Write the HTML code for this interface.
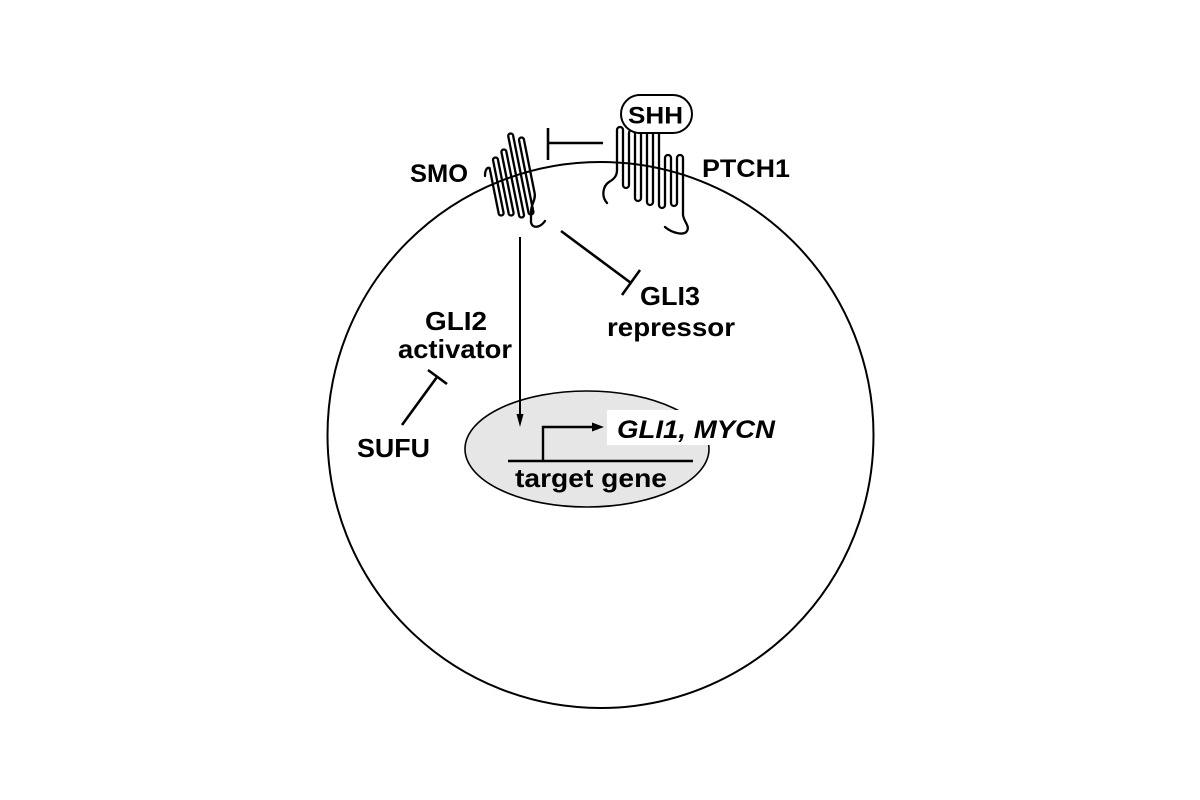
<!DOCTYPE html>
<html>
<head>
<meta charset="utf-8">
<style>
  html, body { margin: 0; padding: 0; background: #ffffff; }
  svg { display: block; }
  text { font-family: "Liberation Sans", Arial, sans-serif; font-weight: bold; fill: #000; }
</style>
</head>
<body>
<svg width="1200" height="800" viewBox="0 0 1200 800" xmlns="http://www.w3.org/2000/svg">
  <rect x="0" y="0" width="1200" height="800" fill="#ffffff"/>

  <!-- cell membrane -->
  <circle cx="600.5" cy="435" r="273" fill="none" stroke="#000" stroke-width="2"/>

  <!-- nucleus -->
  <ellipse cx="587" cy="449" rx="122" ry="58" fill="#e6e6e6" stroke="#000" stroke-width="1.6"/>
  <rect x="607" y="410" width="112" height="35" fill="#ffffff"/>

  <!-- gene line -->
  <line x1="508" y1="461" x2="693" y2="461" stroke="#000" stroke-width="2.6"/>
  <!-- promoter arrow -->
  <polyline points="543,461 543,427 595,427" fill="none" stroke="#000" stroke-width="2.4"/>
  <polygon points="592,422.5 604,427 592,431.5" fill="#000"/>

  <!-- SMO -> nucleus arrow -->
  <line x1="520" y1="237" x2="520" y2="418" stroke="#000" stroke-width="2"/>
  <polygon points="516.5,414 520,427 523.5,414" fill="#000"/>

  <!-- PTCH1 -| SMO -->
  <line x1="548" y1="143" x2="603" y2="143" stroke="#000" stroke-width="2.6"/>
  <line x1="548" y1="128" x2="548" y2="160" stroke="#000" stroke-width="2.6"/>

  <!-- SMO -| GLI3 -->
  <line x1="561" y1="231" x2="631" y2="283" stroke="#000" stroke-width="2.6"/>
  <line x1="622" y1="295" x2="640" y2="270" stroke="#000" stroke-width="2.6"/>

  <!-- SUFU -| GLI2 -->
  <line x1="402" y1="425" x2="437" y2="377" stroke="#000" stroke-width="2.6"/>
  <line x1="428" y1="370" x2="447" y2="384" stroke="#000" stroke-width="2.6"/>

  <!-- SMO (7TM-like serpentine) -->
  <path d="M485,176 C485,170 487,167 489.6,168
           L498.6,213 A2.5,2.5 0 0 0 503.6,213
           L493,160 A2.5,2.5 0 0 1 498,160
           L508.6,213 A2.5,2.5 0 0 0 513.6,213
           L501.4,152 A2.5,2.5 0 0 1 506.4,152
           L519,215 A2.5,2.5 0 0 0 524,215
           L508.2,136 A2.5,2.5 0 0 1 513.2,136
           L528.4,212 A2.5,2.5 0 0 0 533.4,212
           L519,140 A2.5,2.5 0 0 1 524,140
           L534.6,193 C536,200 531,204 531,212 L531,222 C532,229 540,228 545,221"
        fill="none" stroke="#000" stroke-width="2.3" stroke-linejoin="round" stroke-linecap="round"/>

  <!-- PTCH1 (12TM serpentine) -->
  <path d="M607,203 C601,196 603,186 609,182 C614,179 617,176 617,170
           L617,130 A3,3 0 0 1 623,130
           L623,185 A3,3 0 0 0 629,185
           L629,133 A3,3 0 0 1 635,133
           L635,198 A3,3 0 0 0 641,198
           L641,133 A3,3 0 0 1 647,133
           L647,202 A3,3 0 0 0 653,202
           L653,133 A3,3 0 0 1 659,133
           L659,205 A3,3 0 0 0 665,205
           L665,158 A3,3 0 0 1 671,158
           L671,203 A3,3 0 0 0 677,203
           L677,158 A3,3 0 0 1 683,158
           L683,215 C684,222 690,226 687,231 C684,236 672,233 665,227"
        fill="none" stroke="#000" stroke-width="2.3" stroke-linejoin="round" stroke-linecap="round"/>

  <!-- SHH box -->
  <rect x="621" y="95" width="71" height="38" rx="19" ry="19" fill="#ffffff" stroke="#000" stroke-width="2"/>
  <text x="628" y="123.5" font-size="24" textLength="55" lengthAdjust="spacingAndGlyphs">SHH</text>

  <!-- labels -->
  <text x="410" y="182" font-size="25" textLength="58" lengthAdjust="spacingAndGlyphs">SMO</text>
  <text x="702" y="177" font-size="25" textLength="88" lengthAdjust="spacingAndGlyphs">PTCH1</text>
  <text x="640" y="305" font-size="26" textLength="60" lengthAdjust="spacingAndGlyphs">GLI3</text>
  <text x="607" y="336" font-size="26" textLength="128" lengthAdjust="spacingAndGlyphs">repressor</text>
  <text x="425" y="330" font-size="26" textLength="62" lengthAdjust="spacingAndGlyphs">GLI2</text>
  <text x="398" y="358" font-size="26" textLength="114" lengthAdjust="spacingAndGlyphs">activator</text>
  <text x="357" y="457" font-size="26" textLength="73" lengthAdjust="spacingAndGlyphs">SUFU</text>
  <text x="617" y="438" font-size="25" font-style="italic" textLength="158" lengthAdjust="spacingAndGlyphs">GLI1, MYCN</text>
  <text x="515" y="487" font-size="26" textLength="152" lengthAdjust="spacingAndGlyphs">target gene</text>
</svg>
</body>
</html>
